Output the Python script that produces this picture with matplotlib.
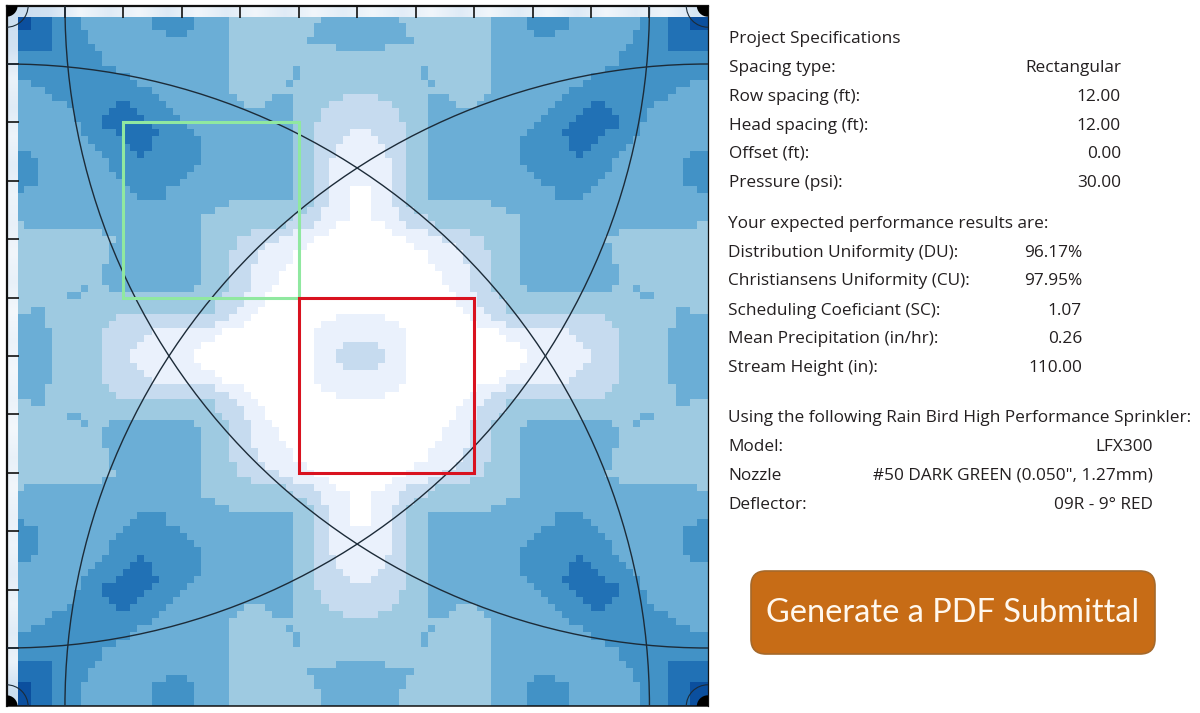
import numpy as np
import matplotlib
matplotlib.use("Agg")
import matplotlib.pyplot as plt
from matplotlib.colors import ListedColormap, LinearSegmentedColormap
from matplotlib.patches import Circle, Rectangle, FancyBboxPatch

# Precipitation class colours, wettest classes are the darkest
level_colors = ["#FFFFFF", "#EAF1FC", "#C6DBEF", "#9ECAE1", "#6BAED6",
                "#4292C6", "#2171B5", "#0B4F9E"]

# Top-left quadrant of the densogram, one row per line: level, end column, ...
quadrant_runs = [
    [7,2, 6,5, 5,9, 4,19, 5,25, 4,30, 3,43, 4,48],
    [7,2, 6,5, 5,9, 4,19, 5,25, 4,30, 3,42, 4,48],
    [6,5, 5,10, 4,21, 5,24, 4,30, 3,42, 4,48],
    [6,5, 5,10, 4,30, 3,41, 4,48],
    [6,5, 5,11, 4,30, 3,45, 4,48],
    [5,12, 4,30, 3,48],
    [5,12, 4,30, 3,48],
    [5,14, 4,30, 3,39, 4,40, 3,48],
    [5,16, 4,30, 3,39, 4,40, 3,48],
    [4,2, 5,17, 4,30, 3,38, 4,39, 3,48],
    [4,4, 5,19, 4,30, 3,48],
    [4,5, 5,20, 4,31, 3,36, 4,39, 3,46, 2,48],
    [4,7, 5,14, 6,16, 5,21, 4,32, 3,35, 4,39, 3,44, 2,48],
    [4,8, 5,13, 6,17, 5,22, 4,39, 3,43, 2,48],
    [4,8, 5,12, 6,18, 5,23, 4,39, 3,43, 2,48],
    [4,9, 5,12, 6,19, 5,24, 4,39, 3,42, 2,48],
    [4,9, 5,14, 6,20, 5,25, 4,39, 3,42, 2,47, 1,48],
    [4,10, 5,15, 6,19, 5,26, 4,39, 3,42, 2,46, 1,48],
    [4,11, 5,16, 6,19, 5,26, 4,39, 3,42, 2,45, 1,48],
    [5,2, 4,12, 5,17, 6,18, 5,26, 4,39, 3,42, 2,45, 1,48],
    [5,3, 4,13, 5,26, 4,39, 3,42, 2,44, 1,48],
    [5,3, 4,13, 5,25, 4,39, 3,42, 2,44, 1,48],
    [5,3, 4,14, 5,24, 4,39, 3,42, 2,44, 1,48],
    [5,3, 4,15, 5,23, 4,39, 3,42, 2,44, 1,48],
    [5,1, 4,16, 5,21, 4,39, 3,42, 2,44, 1,47, 0,48],
    [4,17, 5,21, 4,39, 3,42, 2,44, 1,47, 0,48],
    [4,30, 3,42, 2,44, 1,47, 0,48],
    [4,28, 3,41, 2,43, 1,47, 0,48],
    [4,26, 3,39, 2,43, 1,47, 0,48],
    [3,1, 4,26, 3,38, 2,42, 1,45, 0,48],
    [3,12, 4,26, 3,33, 2,39, 1,44, 0,48],
    [3,14, 4,26, 3,31, 2,37, 1,42, 0,48],
    [3,13, 4,26, 3,31, 2,35, 1,41, 0,48],
    [3,13, 4,26, 3,30, 2,34, 1,39, 0,48],
    [3,13, 4,26, 3,30, 2,34, 1,39, 0,48],
    [3,12, 4,26, 3,30, 2,33, 1,38, 0,48],
    [3,12, 4,26, 3,30, 2,33, 1,37, 0,48],
    [3,12, 4,26, 3,30, 2,33, 1,37, 0,48],
    [3,9, 4,10, 3,13, 4,25, 3,30, 2,33, 1,36, 0,48],
    [3,7, 4,9, 3,29, 2,32, 1,35, 0,48],
    [3,28, 2,32, 1,35, 0,48],
    [3,2, 4,4, 3,28, 2,31, 1,34, 0,48],
    [4,4, 3,14, 2,30, 1,33, 0,45, 1,48],
    [4,4, 3,13, 2,28, 1,32, 0,43, 1,48],
    [4,5, 3,12, 2,19, 1,29, 0,42, 1,48],
    [4,5, 3,12, 2,18, 1,28, 0,42, 1,48],
    [4,5, 3,12, 2,17, 1,26, 0,42, 1,46, 2,48],
    [4,5, 3,12, 2,16, 1,25, 0,42, 1,45, 2,48],
]

# Pale ruler strips along the top and left edges (half-foot shade samples)
top_strip = [0.9, 0.8, 0.25, 0.55, 0.25, 0.6, 0.25, 0.55, 0.25, 0.55, 0.25, 0.5,
             0.25, 0.5, 0.25, 0.55, 0.25, 0.55, 0.25, 0.6, 0.25, 0.55, 0.3, 0.7]
left_strip = [0.9, 0.8, 0.35, 0.55, 0.3, 0.5, 0.3, 0.4, 0.25, 0.4, 0.2, 0.35,
              0.2, 0.35, 0.2, 0.4, 0.25, 0.4, 0.3, 0.5, 0.3, 0.55, 0.35, 0.9]

field_ticks = list(range(1, 12))
sprinkler_corners = [(0, 0), (12, 0), (0, 12), (12, 12)]
throw_radius_ft = 11.0
inner_radius_ft = 0.37
dot_radius_ft = 0.19
green_box = (2, 2, 3, 3)
red_box = (5, 5, 3, 3)

spec_title = "Project Specifications"
spec_labels = ["Spacing type:", "Row spacing (ft):", "Head spacing (ft):", "Offset (ft):", "Pressure (psi):"]
spec_values = ["Rectangular", "12.00", "12.00", "0.00", "30.00"]
result_title = "Your expected performance results are:"
result_labels = ["Distribution Uniformity (DU):", "Christiansens Uniformity (CU):",
                 "Scheduling Coeficiant (SC):", "Mean Precipitation (in/hr):", "Stream Height (in):"]
result_values = ["96.17%", "97.95%", "1.07", "0.26", "110.00"]
model_title = "Using the following Rain Bird High Performance Sprinkler:"
model_labels = ["Model:", "Nozzle", "Deflector:"]
model_values = ["LFX300", '#50 DARK GREEN (0.050", 1.27mm)', "09R - 9° RED"]
button_text = "Generate a PDF Submittal"

# ---- layout -------------------------------------------------------------
W, H = 1200, 713
PX_X, PX_Y = 58.45, 58.4
X0, Y0 = 6.5, 5.6
CELL_X = 7.08 / PX_X
CELL_Y = 7.08 / PX_Y
START_X = (17 - X0) / PX_X
START_Y = (17 - Y0) / PX_Y
TEXT_FONT = "Open Sans"
TEXT_SIZE = 12.4
TEXT_COLOR = "#231F20"
LINE_COLOR = "#1C2B38"


def expand(runs):
    row, start = [], 0
    for lev, end in zip(runs[0::2], runs[1::2]):
        row += [lev] * (end - start)
        start = end
    return row


quad = np.array([expand(r) for r in quadrant_runs])
top = np.hstack([quad, quad[:, -1:], quad[:, ::-1], quad[:, :1]])
grid = np.vstack([top, top[::-1], top[:1], top[:1]])

fig = plt.figure(figsize=(W / 100, H / 100), dpi=100, facecolor="white")
ax = fig.add_axes([X0 / W, 1 - (Y0 + 12 * PX_Y) / H, 12 * PX_X / W, 12 * PX_Y / H])

ax.imshow(grid, cmap=ListedColormap(level_colors), vmin=-0.5, vmax=7.5,
          interpolation="nearest", aspect="auto", zorder=1,
          extent=(START_X, START_X + CELL_X * grid.shape[1],
                  START_Y + CELL_Y * grid.shape[0], START_Y))

strip_cmap = LinearSegmentedColormap.from_list("strip", ["#FFFFFF", "#C6DBEF"])
ax.imshow(np.array([top_strip]), cmap=strip_cmap, vmin=0, vmax=1, aspect="auto",
          interpolation="bilinear", extent=(0, 12, START_Y, 0), zorder=1.5)
ax.imshow(np.array(left_strip)[:, None], cmap=strip_cmap, vmin=0, vmax=1, aspect="auto",
          interpolation="bilinear", extent=(0, START_X, 12, 0), zorder=1.5)

for cx, cy in sprinkler_corners:
    ax.add_patch(Circle((cx, cy), throw_radius_ft, fill=False, ec=LINE_COLOR, lw=1.0, zorder=3))
    ax.add_patch(Circle((cx, cy), inner_radius_ft, fill=False, ec=LINE_COLOR, lw=0.8, zorder=3))
    ax.add_patch(Circle((cx, cy), dot_radius_ft, fc="black", ec="none", zorder=4))

ax.add_patch(Rectangle(green_box[:2], green_box[2], green_box[3], fill=False, ec="#90E8A0", lw=2.2, zorder=3.5))
ax.add_patch(Rectangle(red_box[:2], red_box[2], red_box[3], fill=False, ec="#D9121F", lw=2.2, zorder=3.5))

ax.set_xlim(0, 12)
ax.set_ylim(12, 0)
ax.xaxis.tick_top()
ax.set_xticks(field_ticks)
ax.set_yticks(field_ticks)
ax.set_xticklabels([])
ax.set_yticklabels([])
ax.tick_params(direction="in", length=8.4, width=1.2, color="#111111")
for side, lw in (("top", 1.6), ("left", 1.6), ("right", 0.9), ("bottom", 1.1)):
    ax.spines[side].set_linewidth(lw)
    ax.spines[side].set_color("#111111")

# ---- side panel, positioned in reference pixels --------------------------
panel = fig.add_axes([0, 0, 1, 1], facecolor="none")
panel.set_xlim(0, W)
panel.set_ylim(H, 0)
panel.axis("off")


def write(x, y, s, ha="left", size=TEXT_SIZE):
    panel.text(x, y + 2, s, ha=ha, va="center", fontsize=size, family=TEXT_FONT, color=TEXT_COLOR)


write(729, 37, spec_title)
for y, lab, val in zip([66, 95, 124, 152, 181], spec_labels, spec_values):
    write(729, y, lab)
    write(1121, y, val, ha="right")
write(728, 222, result_title)
for y, lab, val in zip([251, 279, 309, 337, 366], result_labels, result_values):
    write(728, y, lab)
    write(1082, y, val, ha="right")
write(728, 416, model_title)
for y, lab, val in zip([445, 474, 503], model_labels, model_values):
    write(728, y, lab)
    write(1153, y, val, ha="right")

panel.add_patch(FancyBboxPatch((751, 571), 404, 83, boxstyle="round,pad=0,rounding_size=15",
                               mutation_scale=1, fc="#C76C16", ec="#A5692B", lw=1.2))
panel.text(953, 613, button_text, ha="center", va="center", fontsize=23.4,
           family="Lato", color="#FFF8EE")

fig.savefig("out.png", dpi=100)
